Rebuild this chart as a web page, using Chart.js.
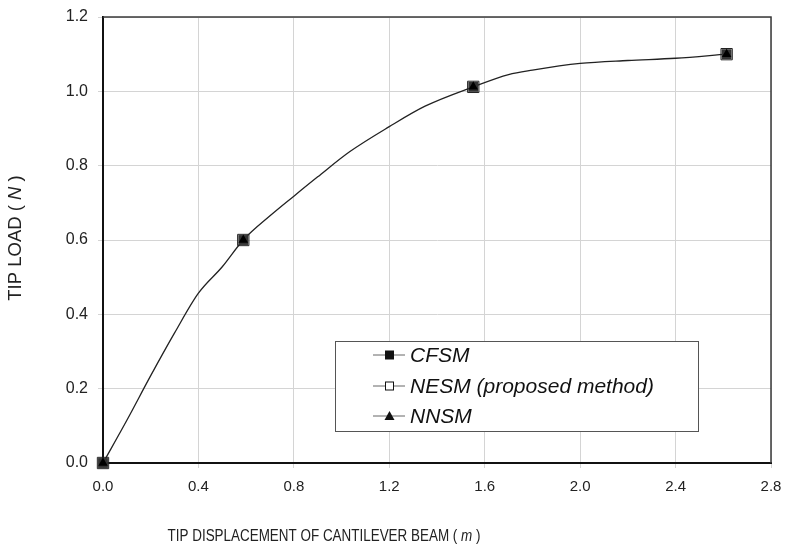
<!DOCTYPE html>
<html>
<head>
<meta charset="utf-8">
<script src="https://cdn.jsdelivr.net/npm/chart.js@4.4.0/dist/chart.umd.min.js"></script>
<style>
  html, body { margin: 0; padding: 0; background: #fff; }
</style>
</head>
<body>
<canvas id="tipChart" width="785" height="552"></canvas>
<script>
// values
const curveX = [0, 0.1, 0.2, 0.3, 0.4, 0.5, 0.588, 0.7, 0.8, 0.9, 1.035, 1.2, 1.35, 1.552, 1.7, 1.8, 2.0, 2.2, 2.4, 2.614];
const curveY = [0, 0.115, 0.235, 0.35, 0.457, 0.528, 0.6, 0.665, 0.718, 0.77, 0.838, 0.905, 0.96, 1.012, 1.045, 1.057, 1.075, 1.083, 1.089, 1.10];
const markerX = [0, 0.588, 1.552, 2.614];
const cfsmY = [0, 0.6, 1.012, 1.10];
const nesmY = [0, 0.6, 1.012, 1.10];
const nnsmY = [0, 0.6, 1.012, 1.10];
const xTicks = [0, 0.4, 0.8, 1.2, 1.6, 2.0, 2.4, 2.8];
const yTicks = [0, 0.2, 0.4, 0.6, 0.8, 1.0, 1.2];
const seriesNames = ['CFSM', 'NESM (proposed method)', 'NNSM'];

const toPoints = (xs, ys) => xs.map((x, i) => ({x: x, y: ys[i]}));

const FONT = "'Liberation Sans', Arial, sans-serif";

// draws the frame, axis titles (with italic units) and the boxed legend
const extras = {
  id: 'extras',
  afterDraw(chart) {
    const ctx = chart.ctx;
    const a = chart.chartArea;
    ctx.save();
    // top + right frame
    ctx.strokeStyle = '#3a3a3a';
    ctx.lineWidth = 1.5;
    ctx.beginPath();
    ctx.moveTo(a.left, a.top);
    ctx.lineTo(a.right, a.top);
    ctx.lineTo(a.right, a.bottom);
    ctx.stroke();

    ctx.fillStyle = '#222';
    ctx.textBaseline = 'middle';
    // x title, a bit condensed like the original
    ctx.save();
    ctx.translate(324, 537);
    ctx.scale(0.84, 1);
    drawMixed(ctx, [['TIP DISPLACEMENT OF CANTILEVER BEAM ( ', false], ['m', true], [' )', false]], 0, 0, "16px " + FONT);
    ctx.restore();
    // y title
    ctx.save();
    ctx.translate(16, 238);
    ctx.rotate(-Math.PI / 2);
    drawMixed(ctx, [['TIP LOAD ( ', false], ['N', true], [' )', false]], 0, 0, "18.5px " + FONT);
    ctx.restore();

    // legend box
    const lx = 335, ly = 341, lw = 363, lh = 90;
    ctx.fillStyle = '#fff';
    ctx.fillRect(lx, ly, lw, lh);
    ctx.strokeStyle = '#555';
    ctx.lineWidth = 1;
    ctx.strokeRect(lx + 0.5, ly + 0.5, lw, lh);
    const rows = [355, 386, 416];
    rows.forEach((ry, i) => {
      ctx.strokeStyle = '#666';
      ctx.lineWidth = 1;
      ctx.beginPath();
      ctx.moveTo(373, ry);
      ctx.lineTo(405, ry);
      ctx.stroke();
      ctx.fillStyle = '#111';
      ctx.strokeStyle = '#111';
      if (i === 0) {
        ctx.fillRect(385, ry - 4.5, 9, 9);
      } else if (i === 1) {
        ctx.fillStyle = '#fff';
        ctx.fillRect(385, ry - 4.5, 9, 9);
        ctx.strokeRect(385.5, ry - 4, 8, 8);
      } else {
        ctx.beginPath();
        ctx.moveTo(389.5, ry - 5);
        ctx.lineTo(394.5, ry + 4);
        ctx.lineTo(384.5, ry + 4);
        ctx.closePath();
        ctx.fill();
      }
      ctx.fillStyle = '#111';
      ctx.font = "italic 21px " + FONT;
      ctx.textAlign = 'left';
      ctx.fillText(seriesNames[i], 410, ry + 1);
    });
    ctx.restore();
  }
};

function drawMixed(ctx, parts, cx, cy, font) {
  let total = 0;
  parts.forEach(p => {
    ctx.font = (p[1] ? 'italic ' : '') + font;
    total += ctx.measureText(p[0]).width;
  });
  let x = cx - total / 2;
  ctx.textAlign = 'left';
  parts.forEach(p => {
    ctx.font = (p[1] ? 'italic ' : '') + font;
    ctx.fillText(p[0], x, cy);
    x += ctx.measureText(p[0]).width;
  });
}

const ctx = document.getElementById('tipChart');
new Chart(ctx, {
  type: 'scatter',
  data: {
    datasets: [
      {
        label: 'NNSM',
        data: toPoints(markerX, nnsmY),
        pointStyle: 'triangle',
        pointRadius: 5.5,
        backgroundColor: '#000',
        borderColor: '#000',
        borderWidth: 0,
        showLine: false,
        clip: false,
        order: 0
      },
      {
        label: 'NESM (proposed method)',
        data: toPoints(markerX, nesmY),
        pointStyle: 'rect',
        pointRadius: 8,
        backgroundColor: 'rgba(0,0,0,0)',
        borderColor: '#222',
        borderWidth: 1,
        showLine: false,
        clip: false,
        order: 1
      },
      {
        label: 'CFSM',
        data: toPoints(markerX, cfsmY),
        pointStyle: 'rect',
        pointRadius: 7,
        backgroundColor: '#333',
        borderColor: '#333',
        borderWidth: 0,
        showLine: false,
        clip: false,
        order: 2
      },
      {
        label: 'curve',
        data: toPoints(curveX, curveY),
        showLine: true,
        pointRadius: 0,
        borderColor: '#222',
        borderWidth: 1.3,
        cubicInterpolationMode: 'monotone',
        clip: false,
        order: 3
      }
    ]
  },
  options: {
    responsive: false,
    animation: false,
    layout: { padding: { top: 17, right: 14, left: 0, bottom: 0 } },
    plugins: {
      legend: { display: false },
      tooltip: { enabled: false }
    },
    scales: {
      x: {
        type: 'linear',
        min: 0,
        max: 2.8,
        afterBuildTicks: (scale) => { scale.ticks = xTicks.map(v => ({value: v})); },
        afterFit: (scale) => { scale.height = 89; scale.paddingLeft = 0; scale.paddingRight = 0; },
        ticks: {
          padding: 10,
          color: '#222',
          font: { family: FONT, size: 15 },
          callback: (v) => Number(v).toFixed(1)
        },
        grid: { color: '#d4d4d4', lineWidth: 1, tickLength: 5 },
        border: { color: '#111', width: 2 }
      },
      y: {
        type: 'linear',
        min: 0,
        max: 1.2,
        afterBuildTicks: (scale) => { scale.ticks = yTicks.map(v => ({value: v})); },
        afterFit: (scale) => { scale.width = 103; scale.paddingTop = 0; scale.paddingBottom = 0; },
        ticks: {
          padding: 10,
          color: '#222',
          font: { family: FONT, size: 16 },
          callback: (v) => Number(v).toFixed(1)
        },
        grid: { color: '#d4d4d4', lineWidth: 1, tickLength: 5 },
        border: { color: '#111', width: 2 }
      }
    }
  },
  plugins: [extras]
});
</script>
</body>
</html>
